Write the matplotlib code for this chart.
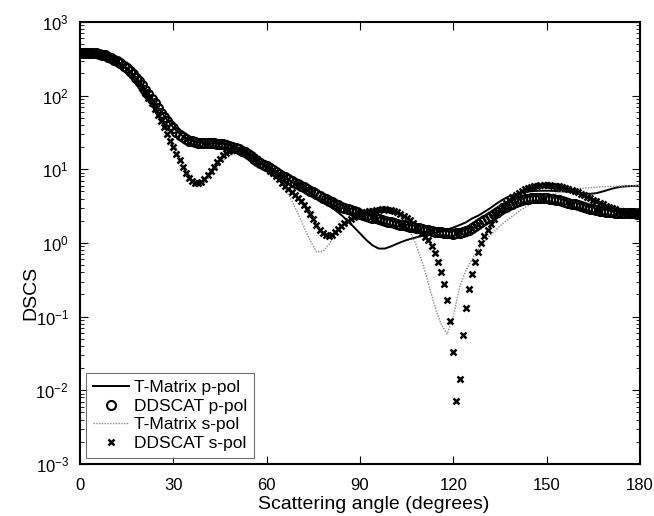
import matplotlib
matplotlib.use("Agg")
import matplotlib.pyplot as plt
import matplotlib.ticker as mticker
import numpy as np

plt.rcParams['font.family'] = ['Liberation Sans', 'DejaVu Sans']
plt.rcParams['mathtext.fontset'] = 'custom'
plt.rcParams['mathtext.rm'] = 'Liberation Sans'

# DDSCAT results, one point per degree (0..180)
ang_dd = np.arange(0, 181, 1)
dd_p = [385, 385, 384, 382, 379, 375, 369, 361, 351, 339,
        325, 309, 292, 274, 255, 235, 215, 195, 175, 156,
        138, 121, 105, 91, 79, 68, 59, 51, 45, 40,
        36, 32.5, 29.5, 27.3, 25.7, 24.6, 23.9, 23.4, 23.1, 22.9,
        22.8, 22.7, 22.6, 22.5, 22.4, 22.2, 21.9, 21.5, 21.0, 20.4,
        19.7, 18.9, 18.0, 17.0, 16.0, 15.0, 14.0, 13.0, 12.1, 11.5,
        11.0, 10.4, 9.8, 9.2, 8.7, 8.2, 7.8, 7.4, 7.0, 6.6,
        6.3, 6.0, 5.7, 5.4, 5.1, 4.85, 4.6, 4.35, 4.1, 3.9,
        3.7, 3.55, 3.4, 3.25, 3.1, 3.0, 2.9, 2.8, 2.7, 2.6,
        2.5, 2.42, 2.35, 2.28, 2.21, 2.15, 2.1, 2.05, 2.0, 1.95,
        1.9, 1.86, 1.82, 1.78, 1.74, 1.7, 1.67, 1.64, 1.61, 1.58,
        1.55, 1.52, 1.49, 1.46, 1.43, 1.41, 1.39, 1.37, 1.36, 1.35,
        1.34, 1.35, 1.37, 1.4, 1.45, 1.52, 1.6, 1.7, 1.81, 1.93,
        2.06, 2.2, 2.35, 2.5, 2.65, 2.8, 2.95, 3.1, 3.25, 3.4,
        3.55, 3.68, 3.8, 3.9, 3.98, 4.04, 4.08, 4.1, 4.1, 4.08,
        4.05, 4.0, 3.94, 3.87, 3.79, 3.7, 3.61, 3.52, 3.43, 3.34,
        3.25, 3.16, 3.08, 3.0, 2.93, 2.86, 2.8, 2.75, 2.7, 2.66,
        2.63, 2.6, 2.58, 2.56, 2.55, 2.54, 2.53, 2.52, 2.52, 2.51, 2.51]
dd_s = [385, 385, 384, 382, 379, 375, 369, 361, 351, 339,
        325, 309, 291, 272, 252, 231, 210, 188, 167, 147,
        128, 110, 94, 79, 66, 55, 45, 37, 30, 24.5,
        20, 16.2, 13.2, 10.8, 9.0, 7.7, 6.9, 6.5, 6.5, 6.8,
        7.4, 8.3, 9.4, 10.9, 12.5, 14.0, 15.5, 16.7, 17.6, 18.2,
        18.5, 18.5, 18.2, 17.6, 16.8, 15.8, 14.8, 13.7, 12.6, 11.5,
        10.5, 9.6, 8.8, 8.0, 7.3, 6.6, 6.0, 5.4, 4.9, 4.5,
        4.1, 3.7, 3.3, 2.9, 2.45, 2.1, 1.75, 1.5, 1.35, 1.27,
        1.25, 1.3, 1.4, 1.55, 1.7, 1.85, 2.0, 2.12, 2.25, 2.35,
        2.45, 2.55, 2.63, 2.7, 2.76, 2.8, 2.84, 2.86, 2.86, 2.84,
        2.8, 2.72, 2.62, 2.5, 2.36, 2.2, 2.03, 1.85, 1.67, 1.5,
        1.35, 1.22, 1.09, 0.91, 0.73, 0.56, 0.41, 0.28, 0.17, 0.088,
        0.033, 0.0072, 0.0143, 0.056, 0.13, 0.24, 0.38, 0.56, 0.76, 1.0,
        1.23, 1.5, 1.8, 2.1, 2.45, 2.8, 3.15, 3.5, 3.85, 4.2,
        4.5, 4.8, 5.1, 5.35, 5.55, 5.75, 5.9, 6.0, 6.05, 6.1,
        6.1, 6.08, 6.03, 5.95, 5.85, 5.72, 5.58, 5.42, 5.25, 5.05,
        4.85, 4.65, 4.45, 4.25, 4.05, 3.85, 3.67, 3.5, 3.35, 3.2,
        3.07, 2.95, 2.85, 2.76, 2.68, 2.62, 2.57, 2.53, 2.5, 2.48, 2.47]

# T-Matrix results, every 2 degrees
ang_tm = np.arange(0, 181, 2)
tm_p = [383, 381, 376, 365, 348, 325, 293, 256, 216, 176,
        138, 106, 80, 61, 47, 37, 30.5, 26.5, 24.3, 23.2,
        22.7, 22.5, 22.3, 21.9, 21.1, 19.9, 18.2, 16.3, 14.3, 12.5,
        11.0, 9.7, 8.6, 7.6, 6.8, 6.1, 5.4, 4.8, 4.2, 3.7,
        3.2, 2.8, 2.4, 2.0, 1.65, 1.35, 1.1, 0.93, 0.84, 0.84,
        0.9, 0.98, 1.06, 1.13, 1.19, 1.25, 1.32, 1.38, 1.43, 1.52,
        1.62, 1.75, 1.9, 2.15, 2.35, 2.65, 3.0, 3.45, 3.9, 4.3,
        4.6, 4.85, 5.0, 5.08, 5.12, 5.12, 5.1, 5.05, 5.0, 4.9,
        4.8, 4.7, 4.65, 4.75, 5.0, 5.3, 5.6, 5.8, 5.9, 5.95, 6.0]
tm_s = [383, 381, 376, 365, 348, 325, 292, 253, 211, 169,
        130, 97, 70, 49, 34, 23, 15.5, 10.3, 7.2, 6.1,
        6.6, 8.3, 10.6, 13.2, 15.6, 17.3, 17.9, 17.5, 16.2, 14.3,
        12.0, 9.6, 7.4, 5.4, 3.8, 2.55, 1.65, 1.07, 0.76, 0.76,
        0.95, 1.3, 1.7, 2.05, 2.35, 2.55, 2.7, 2.8, 2.85, 2.83,
        2.72, 2.45, 2.0, 1.45, 0.95, 0.55, 0.28, 0.14, 0.08, 0.058,
        0.1, 0.25, 0.42, 0.6, 0.82, 1.05, 1.3, 1.55, 1.85, 2.15,
        2.5, 2.85, 3.2, 3.6, 3.95, 4.3, 4.6, 4.9, 5.1, 5.3,
        5.45, 5.55, 5.65, 5.72, 5.8, 5.85, 5.9, 5.93, 5.96, 5.98, 6.0]

fig = plt.figure(figsize=(6.54, 5.16), dpi=100)
ax = fig.add_axes([0.1223, 0.1008, 0.8563, 0.8566])

ax.plot(ang_tm, tm_p, color='black', lw=1.4, label='T-Matrix p-pol', zorder=3)
ax.plot(ang_dd, dd_p, ls='none', marker='o', ms=6.5, mfc='none', mec='black',
        mew=1.5, label='DDSCAT p-pol', zorder=4)
ax.plot(ang_tm, tm_s, color='0.55', lw=1.0, ls=(0, (1, 1)),
        label='T-Matrix s-pol', zorder=3)
ax.plot(ang_dd, dd_s, ls='none', marker='x', ms=4.5, mec='black', mew=1.8,
        label='DDSCAT s-pol', zorder=5)

ax.set_yscale('log')
ax.set_xlim(0, 180)
ax.set_ylim(1e-3, 1e3)
ax.set_xticks([0, 30, 60, 90, 120, 150, 180])
ax.yaxis.set_major_locator(mticker.LogLocator(base=10, numticks=10))
ax.yaxis.set_minor_locator(mticker.LogLocator(base=10, subs=np.arange(2, 10), numticks=20))
ax.yaxis.set_minor_formatter(mticker.NullFormatter())

ax.tick_params(which='both', direction='in', top=True, right=True, labelsize=12)
ax.tick_params(which='major', length=6, width=0.8)
ax.tick_params(which='minor', length=3, width=0.6)
ax.tick_params(axis='x', which='major', pad=10)
ax.tick_params(axis='y', which='major', pad=8)
for s in ax.spines.values():
    s.set_linewidth(1.5)

ax.set_xlabel('Scattering angle (degrees)', fontsize=14)
ax.set_ylabel('DSCS', fontsize=14)
ax.xaxis.set_label_coords(0.525, -0.072)
ax.yaxis.set_label_coords(-0.072, 0.387)

leg = ax.legend(loc='lower left', fontsize=12.5, frameon=True, fancybox=False,
                edgecolor='0.3', handlelength=2.1, handletextpad=0.25,
                labelspacing=0.2, borderpad=0.4, borderaxespad=0.35)
leg.get_frame().set_linewidth(0.8)

fig.savefig('out.png', dpi=100)
